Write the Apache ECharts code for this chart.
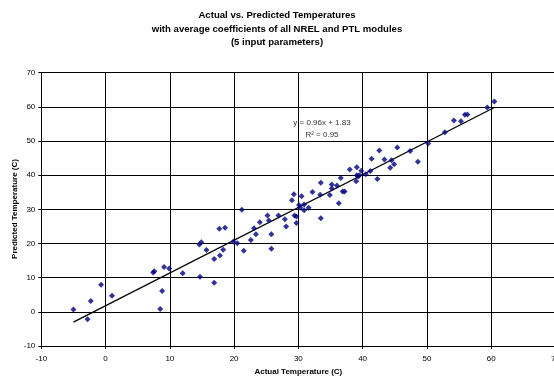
<!DOCTYPE html>
<html><head><meta charset="utf-8">
<script src="https://cdn.jsdelivr.net/npm/echarts@6/dist/echarts.min.js"></script>
<style>html,body{margin:0;padding:0;background:#fff}#c{width:554px;height:377px}</style>
</head><body><div id="c"></div>
<script>
var titleLines = ["Actual vs. Predicted Temperatures", "with average coefficients of all NREL and PTL modules", "(5 input parameters)"];
var xName = "Actual Temperature (C)";
var yName = "Predicted Temperature (C)";
var actual = [-5.0,-2.8,-2.3,-0.7,1.0,7.4,7.6,8.5,8.8,9.1,9.9,12.0,14.7,14.6,14.9,15.7,16.9,16.9,17.7,17.8,18.3,18.6,19.9,20.5,21.2,21.5,22.6,23.1,23.4,24.0,25.2,25.4,25.8,25.8,26.9,27.9,28.1,29.0,29.3,29.4,29.7,29.7,30.1,30.3,30.5,30.9,30.9,31.6,32.2,33.5,33.4,33.5,34.9,35.2,35.2,36.0,36.3,36.6,36.9,37.2,38.0,39.0,39.1,39.1,39.5,39.3,39.8,40.5,41.2,41.4,42.3,42.6,43.4,44.3,44.5,44.9,45.4,47.4,48.6,50.2,52.8,54.2,55.3,55.9,56.3,59.4,60.5];
var predicted = [0.7,-2.2,3.2,7.9,4.7,11.5,11.9,0.8,6.1,13.1,12.7,11.3,10.3,19.7,20.4,18.1,15.5,8.5,24.3,16.5,18.2,24.6,20.6,20.1,29.9,17.9,21.0,24.5,22.7,26.2,28.2,26.7,22.7,18.5,28.2,27.1,25.0,32.7,34.4,28.2,27.9,26.0,31.3,30.5,33.8,31.4,29.7,30.5,35.1,37.8,34.3,27.4,34.2,37.3,36.1,37.0,31.8,39.2,35.2,35.2,41.7,38.2,42.3,40.0,40.0,39.6,41.3,40.3,41.2,44.8,38.9,47.2,44.6,42.2,44.4,43.2,48.1,47.1,43.9,49.3,52.6,56.0,55.8,57.7,57.8,59.8,61.6];
var trendX = [-5.0, 60.5];
var trendY = [-3.0, 59.8];
var trendLabel = ["y = 0.96x + 1.83", "R\u00B2 = 0.95"];
var xTicks = {min: -10, max: 70, interval: 10};
var yTicks = {min: -10, max: 70, interval: 10};

var pts = actual.map(function(x, i){ return [x, predicted[i]]; });
var trend = trendX.map(function(x, i){ return [x, trendY[i]]; });
var FONT = "Liberation Sans, Arial, sans-serif";
var chart = echarts.init(document.getElementById('c'), null, {renderer: 'canvas'});
chart.setOption({
  animation: false,
  backgroundColor: '#fff',
  title: {
    text: titleLines.join('\n'),
    left: 'center', top: 4,
    textStyle: {fontFamily: FONT, fontSize: 9.6, fontWeight: 'bold', color: '#000', lineHeight: 13.5}
  },
  grid: {left: 41.3, width: 514.1, top: 72.7, height: 273.3, containLabel: false, outerBoundsMode: 'none'},
  xAxis: {
    type: 'value', min: xTicks.min, max: xTicks.max, interval: xTicks.interval,
    name: xName, nameLocation: 'middle', nameGap: 21,
    nameTextStyle: {fontFamily: FONT, fontSize: 8, fontWeight: 'bold', color: '#000'},
    axisLine: {show: true, onZero: false, lineStyle: {color: '#000', width: 1}},
    axisTick: {show: true, length: 3, lineStyle: {color: '#000'}},
    axisLabel: {fontFamily: FONT, fontSize: 8, color: '#000', margin: 9},
    splitLine: {show: true, lineStyle: {color: '#000', width: 1}}
  },
  yAxis: {
    type: 'value', min: yTicks.min, max: yTicks.max, interval: yTicks.interval,
    axisLine: {show: true, onZero: false, lineStyle: {color: '#000', width: 1}},
    axisTick: {show: true, length: 3, lineStyle: {color: '#000'}},
    axisLabel: {fontFamily: FONT, fontSize: 8, color: '#000', margin: 6},
    splitLine: {show: true, lineStyle: {color: '#000', width: 1}}
  },
  series: [
    {
      type: 'line', data: trend, symbol: 'none', z: 3,
      lineStyle: {color: '#000', width: 1.3}
    },
    {
      type: 'scatter', data: pts, symbol: 'diamond', symbolSize: 6, z: 4,
      itemStyle: {color: '#000080'}
    }
  ],
  graphic: [{
    type: 'text', x: 322, y: 117, z: 10,
    style: {text: trendLabel.join('\n'), font: '8px ' + FONT, fill: '#333', align: 'center', verticalAlign: 'top', lineHeight: 12}
  }, {
    type: 'text', x: 15, y: 209, rotation: Math.PI / 2, z: 10,
    style: {text: yName, font: 'bold 8px ' + FONT, fill: '#000', align: 'center', verticalAlign: 'middle'}
  }]
});
</script></body></html>
